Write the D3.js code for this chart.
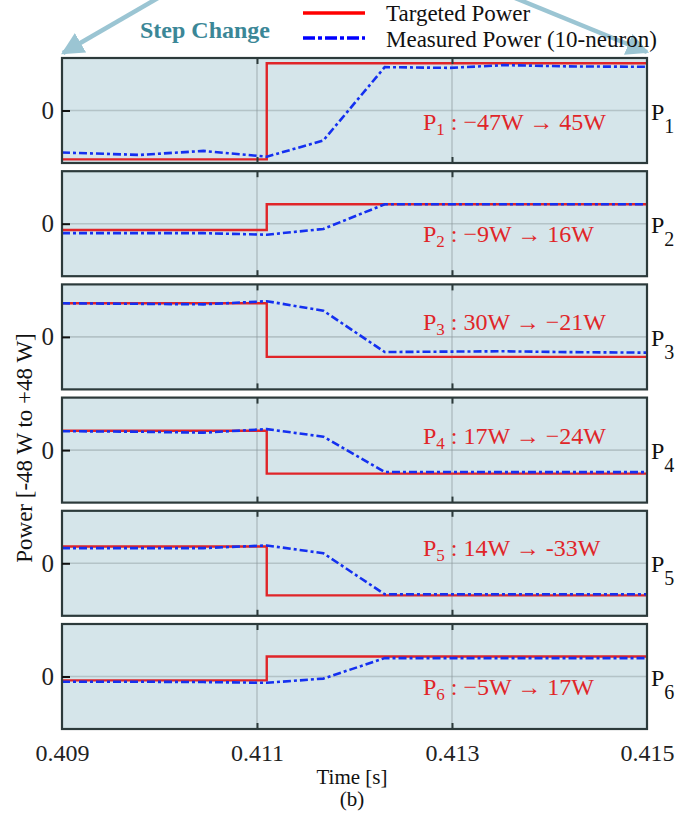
<!DOCTYPE html>
<html>
<head>
<meta charset="utf-8">
<script src="https://cdn.jsdelivr.net/npm/d3@7"></script>
<style>
  body { margin: 0; background: #fff; }
  svg text { font-family: "Liberation Serif", "Times New Roman", serif !important; }
</style>
</head>
<body>
<svg id="chart" width="695" height="820"></svg>
<script>
"use strict";

// Tijdas en maatstreepjes
var xTicks = [0.409, 0.411, 0.413, 0.415];
var stepTijd = 0.4111;

// Bemonsterde tijdstippen van het gemeten vermogen
var meetTijden = [0.409, 0.4098, 0.41045, 0.4111, 0.41168, 0.41231, 0.41298, 0.41354, 0.4142, 0.415];

// Gemeten vermogen (10-neuron), per fase
var gemetenP1 = [-40, -42.3, -38.5, -44, -28.6, 41.3, 40.6, 43.2, 42, 41.6];
var gemetenP2 = [-9, -9, -9, -10.5, -5, 18.5, 18.5, 18.5, 18.5, 18.5];
var gemetenP3 = [32, 31.5, 31, 34, 25, -14.4, -14, -13.7, -14.5, -15];
var gemetenP4 = [18, 17.5, 16.6, 20, 12.8, -20.8, -20.8, -21, -21, -21];
var gemetenP5 = [14.5, 14.5, 14.5, 17, 9.6, -29.5, -29.5, -29.5, -29.5, -29.5];
var gemetenP6 = [-5, -5, -5.3, -6, -2, 17.5, 17.5, 17.5, 17.5, 17.5];

// Doelvermogen voor en na de stap
var doelP1 = [-46.5, 45];
var doelP2 = [-6, 18.5];
var doelP3 = [32, -19];
var doelP4 = [18.5, -22.4];
var doelP5 = [16, -30.5];
var doelP6 = [-3.7, 19];

// Teksten
var annotaties = [
    ["1", " : \u221247W \u2192 45W"],
    ["2", " : \u22129W \u2192 16W"],
    ["3", " : 30W \u2192 \u221221W"],
    ["4", " : 17W \u2192 \u221224W"],
    ["5", " : 14W \u2192 -33W"],
    ["6", " : \u22125W \u2192 17W"]
];
var gemeten = [gemetenP1, gemetenP2, gemetenP3, gemetenP4, gemetenP5, gemetenP6];
var doel = [doelP1, doelP2, doelP3, doelP4, doelP5, doelP6];
// verticale verschuiving van de annotatie t.o.v. de nullijn
var annotatieDy = [19, 18, -7, -6, -7, 18];

var rood = "#e02529";
var blauw = "#1430f0";
var achtergrond = "#d5e5ea";
var rand = "#2c3a3b";
var pijlKleur = "#9bc5d3";

var svg = d3.select("#chart");
var links = 62, rechts = 647, boven = 58, hoogte = 105, stap = 113.2;

var x = d3.scaleLinear().domain([0.409, 0.415]).range([links, rechts]);

var defs = svg.append("defs");
defs.append("marker")
    .attr("id", "pijlpunt")
    .attr("viewBox", "0 0 10 10")
    .attr("refX", 9).attr("refY", 5)
    .attr("markerWidth", 5).attr("markerHeight", 5)
    .attr("markerUnits", "strokeWidth")
    .attr("orient", "auto")
    .append("path").attr("d", "M0,0 L10,5 L0,10 Z").attr("fill", pijlKleur);

// Pijlen bovenaan
svg.append("line")
    .attr("x1", 158).attr("y1", -2).attr("x2", 63).attr("y2", 53)
    .attr("stroke", pijlKleur).attr("stroke-width", 4.5)
    .attr("marker-end", "url(#pijlpunt)");
svg.append("line")
    .attr("x1", 515).attr("y1", -2).attr("x2", 647).attr("y2", 52)
    .attr("stroke", pijlKleur).attr("stroke-width", 4.5)
    .attr("marker-end", "url(#pijlpunt)");

svg.append("text")
    .attr("x", 140).attr("y", 38)
    .style("font-size", "24px").style("font-weight", "bold")
    .attr("fill", "#3b8797")
    .text("Step Change");

// Legenda
svg.append("line").attr("x1", 303).attr("x2", 365).attr("y1", 13).attr("y2", 13)
    .attr("stroke", "#f00").attr("stroke-width", 3.5);
svg.append("line").attr("x1", 303).attr("x2", 365).attr("y1", 38).attr("y2", 38)
    .attr("stroke", "#00f").attr("stroke-width", 3.5).attr("stroke-dasharray", "12,3,4,3");
svg.append("text").attr("x", 386).attr("y", 21).style("font-size", "23px").attr("fill", "#111").text("Targeted Power");
svg.append("text").attr("x", 386).attr("y", 46.5).style("font-size", "23px").attr("fill", "#111").text("Measured Power (10-neuron)");

var lijnMeting = d3.line().x((d) => x(d[0])).y((d) => d[1]);

d3.range(6).forEach(function (i) {
    var top = boven + i * stap;
    var y = d3.scaleLinear().domain([-50, 50]).range([top + hoogte, top]);
    var g = svg.append("g");

    g.append("rect")
        .attr("x", links).attr("y", top)
        .attr("width", rechts - links).attr("height", hoogte)
        .attr("fill", achtergrond);

    // Rasterlijnen
    g.selectAll("line.vgrid").data([0.411, 0.413]).enter().append("line")
        .attr("x1", (d) => x(d)).attr("x2", (d) => x(d))
        .attr("y1", top).attr("y2", top + hoogte)
        .attr("stroke", "#8c9a9d").attr("stroke-opacity", 0.45).attr("stroke-width", 1.6);
    g.append("line")
        .attr("x1", links).attr("x2", rechts).attr("y1", y(0)).attr("y2", y(0))
        .attr("stroke", "#8c9a9d").attr("stroke-opacity", 0.45).attr("stroke-width", 1.6);

    // Annotatie
    var ann = g.append("text")
        .attr("x", 423).attr("y", y(0) + annotatieDy[i])
        .attr("fill", rood).style("font-size", "24px");
    ann.append("tspan").text("P");
    ann.append("tspan").attr("dy", 5).style("font-size", "17px").text(annotaties[i][0]);
    ann.append("tspan").attr("dy", -5).text(annotaties[i][1]);

    // Doelvermogen (stap)
    var doelPunten = [[0.409, doel[i][0]], [stepTijd, doel[i][1]], [0.415, doel[i][1]]];
    g.append("path")
        .datum(doelPunten)
        .attr("d", d3.line().curve(d3.curveStepAfter).x((d) => x(d[0])).y((d) => y(d[1])))
        .attr("fill", "none").attr("stroke", rood).attr("stroke-width", 2.4);

    // Gemeten vermogen
    g.append("path")
        .datum(meetTijden.map((t, j) => [t, y(gemeten[i][j])]))
        .attr("d", lijnMeting)
        .attr("fill", "none").attr("stroke", blauw).attr("stroke-width", 2.6)
        .attr("stroke-dasharray", "8,3,3,3");

    // Kader
    g.append("rect")
        .attr("x", links).attr("y", top)
        .attr("width", rechts - links).attr("height", hoogte)
        .attr("fill", "none").attr("stroke", rand).attr("stroke-width", 2.2);

    // Maatstreepjes boven en onder (naar binnen)
    g.append("g").attr("transform", "translate(0," + top + ")")
        .call(d3.axisTop(x).tickValues([0.411, 0.413]).tickSizeInner(-6).tickSizeOuter(0).tickFormat(""))
        .call((s) => s.select(".domain").remove())
        .selectAll("line").attr("stroke", rand).attr("stroke-width", 2);
    var onder = g.append("g").attr("transform", "translate(0," + (top + hoogte) + ")")
        .call(d3.axisBottom(x).tickValues(i === 5 ? xTicks : [0.411, 0.413])
            .tickSizeInner(-6).tickSizeOuter(0).tickPadding(15)
            .tickFormat(i === 5 ? d3.format(".3f") : ""))
        .call((s) => s.select(".domain").remove());
    onder.attr("font-family", null).attr("font-size", null);
    onder.selectAll("line").attr("stroke", rand).attr("stroke-width", 2);
    onder.selectAll("text").attr("fill", "#222").style("font-size", "24px");
    onder.selectAll(".tick").filter((d) => d === 0.409 || d === 0.415).select("line").remove();

    // Y-as met alleen 0
    var yas = g.append("g").attr("transform", "translate(" + links + ",0)")
        .call(d3.axisLeft(y).tickValues([0]).tickSizeInner(-8).tickSizeOuter(0).tickPadding(8).tickFormat(d3.format("d")))
        .call((s) => s.select(".domain").remove());
    yas.attr("font-family", null).attr("font-size", null);
    yas.selectAll("line").attr("stroke", "#111").attr("stroke-width", 2);
    yas.selectAll("text").attr("fill", "#222").style("font-size", "25px");

    // Faselabel rechts
    var lab = g.append("text").attr("x", rechts + 4).attr("y", y(0) + 9)
        .attr("fill", "#111").style("font-size", "24px");
    lab.append("tspan").text("P");
    lab.append("tspan").attr("dy", 13).style("font-size", "20px").text(String(i + 1));
});

// Astitels
svg.append("text")
    .attr("transform", "translate(32," + 448 + ") rotate(-90)")
    .attr("text-anchor", "middle").style("font-size", "23px").attr("fill", "#111")
    .text("Power [-48 W to +48 W]");
svg.append("text").attr("x", 352).attr("y", 784).attr("text-anchor", "middle")
    .style("font-size", "21px").attr("fill", "#111").text("Time [s]");
svg.append("text").attr("x", 352).attr("y", 806).attr("text-anchor", "middle")
    .style("font-size", "21px").attr("fill", "#111").text("(b)");
</script>
</body>
</html>
